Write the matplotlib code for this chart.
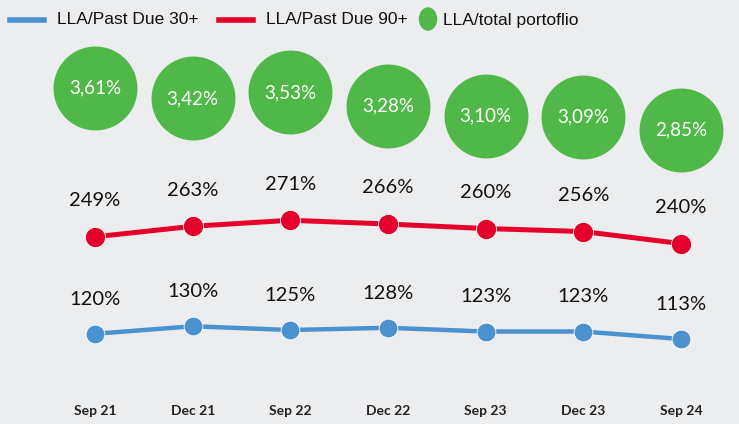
import matplotlib.pyplot as plt
from matplotlib.lines import Line2D
from matplotlib.patches import Ellipse

periods = ["Sep 21", "Dec 21", "Sep 22", "Dec 22", "Sep 23", "Dec 23", "Sep 24"]
due30 = [120, 130, 125, 128, 123, 123, 113]
due90 = [249, 263, 271, 266, 260, 256, 240]
total_portfolio = [3.61, 3.42, 3.53, 3.28, 3.10, 3.09, 2.85]
legend_labels = ["LLA/Past Due 30+", "LLA/Past Due 90+", "LLA/total portoflio"]

BG = "#ECEDEF"
BLUE = "#4A91CF"
RED = "#E4002B"
GREEN = "#50B848"
LABEL_FONT = ["Lato", "DejaVu Sans"]
LEGEND_FONT = ["Liberation Sans", "DejaVu Sans"]

W, H = 739, 424
fig = plt.figure(figsize=(W / 100, H / 100), dpi=100, facecolor=BG)
ax = fig.add_axes([0, 0, 1, 1], facecolor=BG)
ax2 = ax.twinx()

x = list(range(len(periods)))

ax.plot(x, due30, color=BLUE, lw=3.2, marker="o", ms=13.5,
        mec="white", mew=0.6, zorder=3)
ax.plot(x, due90, color=RED, lw=3.6, marker="o", ms=14.5,
        mec="white", mew=0.6, zorder=3)

for xi, v in zip(x, due30):
    ax.annotate(f"{v}%", (xi, v), xytext=(0, 25), textcoords="offset points",
                ha="center", va="center", fontsize=14.5, family=LABEL_FONT,
                color="#111111")
for xi, v in zip(x, due90):
    ax.annotate(f"{v}%", (xi, v), xytext=(0, 26), textcoords="offset points",
                ha="center", va="center", fontsize=14.5, family=LABEL_FONT,
                color="#111111")

# bubbles on a second scale
ax2.scatter(x, total_portfolio, s=3650, color=GREEN, zorder=2, linewidths=0)
for xi, v in zip(x, total_portfolio):
    ax2.text(xi, v, f"{v:.2f}%".replace(".", ","), ha="center", va="center",
             fontsize=13.5, family=LABEL_FONT, color="white")

ax.set_xlim(-0.973, 6.594)
ax.set_ylim(0, 564)
ax2.set_ylim(-2.466, 5.201)

for a in (ax, ax2):
    a.set_yticks([])
    a.set_xticks([])
    for s in a.spines.values():
        s.set_visible(False)

for xi, lab in zip(x, periods):
    ax.text(xi, 0.031, lab, transform=ax.get_xaxis_transform(), ha="center",
            va="center", fontsize=10, fontweight="bold", family=LABEL_FONT,
            color="#222222")


# legend drawn by hand, positions in pixels
def fx(px):
    return px / W


def fy(py):
    return 1 - py / H


ly = 20
for (x0, x1), col in [((10, 44), BLUE), ((219, 253), RED)]:
    fig.add_artist(Line2D([fx(x0), fx(x1)], [fy(ly), fy(ly)], color=col, lw=4,
                          transform=fig.transFigure))
fig.add_artist(Ellipse((fx(428), fy(ly - 1)), fx(17), 22 / H, color=GREEN,
                       transform=fig.transFigure))
for tx, lab in zip([57, 266, 443], legend_labels):
    fig.text(fx(tx), fy(ly), lab, ha="left", va="center", fontsize=12.5,
             family=LEGEND_FONT, color="#111111")

fig.savefig("out.png", dpi=100, facecolor=BG)
